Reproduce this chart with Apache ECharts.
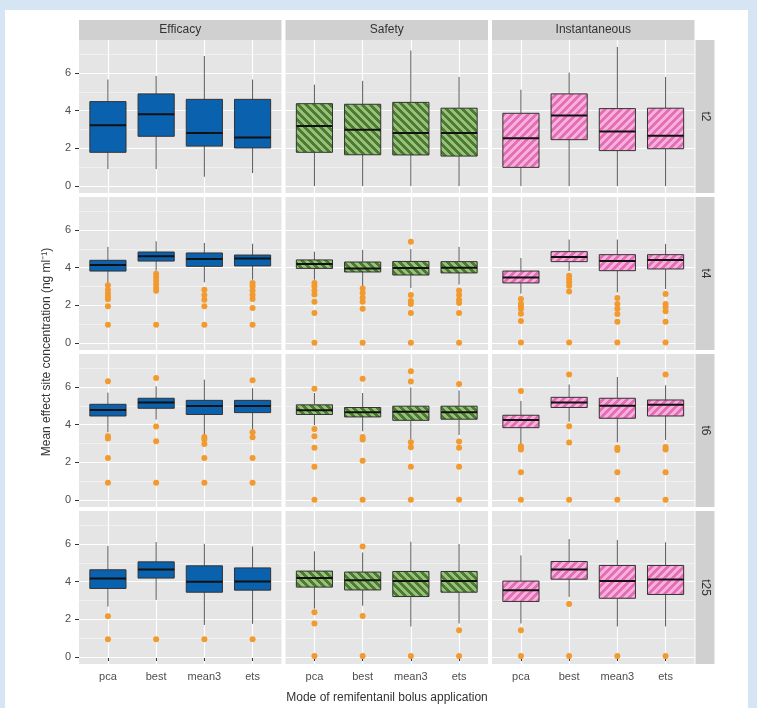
<!DOCTYPE html>
<html>
<head>
<meta charset="utf-8">
<script src="https://cdn.jsdelivr.net/npm/echarts@6/dist/echarts.min.js"></script>
<style>
html,body{margin:0;padding:0;background:#d6e5f4;}
#card{position:absolute;left:5px;top:10px;width:743px;height:698px;background:#fff;}
#chart{position:absolute;left:0;top:0;width:757px;height:708px;}
</style>
</head>
<body>
<div id="card"></div>
<div id="chart"></div>
<script>
// ---------- data ----------
const categories = ['pca', 'best', 'mean3', 'ets'];
const modes = ['Efficacy', 'Safety', 'Instantaneous'];
const times = ['t2', 't4', 't6', 't25'];
const yTickValues = [0, 2, 4, 6];
const yMinorValues = [1, 3, 5, 7];
const xAxisTitle = 'Mode of remifentanil bolus application';
const yAxisTitle = 'Mean effect site concentration (ng ml\u207B\u00B9)';

// box stats per category: [lower whisker, Q1, median, Q3, upper whisker]
const effT2 = [[0.90,1.79,3.22,4.48,5.65],[0.90,2.64,3.81,4.89,5.84],[0.49,2.12,2.81,4.60,6.90],[0.69,2.02,2.57,4.60,5.65]];
const safT2 = [[0.00,1.79,3.19,4.37,5.38],[0.00,1.66,2.99,4.34,5.58],[0.00,1.65,2.81,4.44,7.19],[0.00,1.59,2.81,4.13,5.79]];
const insT2 = [[0.00,0.99,2.53,3.86,5.11],[0.00,2.46,3.74,4.89,6.02],[0.00,1.88,2.90,4.11,7.38],[0.00,1.98,2.67,4.13,5.79]];

const effT4 = [[3.19,3.82,4.14,4.39,5.10],[3.84,4.35,4.60,4.83,5.40],[3.22,4.07,4.46,4.78,5.31],[3.36,4.09,4.49,4.67,5.27]];
const safT4 = [[3.36,3.96,4.20,4.41,4.85],[3.01,3.77,3.96,4.30,4.94],[2.92,3.61,3.98,4.33,4.99],[3.10,3.72,4.00,4.32,5.10]];
const insT4 = [[2.62,3.19,3.48,3.82,4.51],[3.82,4.32,4.57,4.85,5.49],[2.69,3.84,4.35,4.69,5.49],[2.87,3.93,4.41,4.69,5.26]];

const effT6 = [[3.60,4.46,4.78,5.08,5.70],[4.27,4.87,5.17,5.40,6.04],[3.45,4.54,4.99,5.29,6.39],[3.74,4.64,4.99,5.29,5.93]];
const safT6 = [[3.97,4.54,4.76,5.05,5.68],[3.65,4.41,4.66,4.91,5.68],[3.21,4.23,4.69,4.98,5.97],[3.45,4.29,4.66,4.98,5.81]];
const insT6 = [[2.92,3.84,4.25,4.50,5.26],[4.16,4.91,5.17,5.45,6.13],[3.06,4.34,5.01,5.40,6.53],[3.19,4.46,5.05,5.31,6.09]];

const effT25 = [[2.68,3.64,4.17,4.63,5.89],[3.03,4.19,4.65,5.05,6.10],[1.70,3.44,3.99,4.84,6.01],[1.76,3.55,4.01,4.73,5.87]];
const safT25 = [[2.57,3.71,4.19,4.56,5.61],[2.72,3.56,4.08,4.51,5.55],[1.62,3.21,4.03,4.54,6.12],[1.78,3.44,4.04,4.54,6.00]];
const insT25 = [[1.78,2.95,3.55,4.03,5.39],[3.19,4.13,4.65,5.07,6.26],[1.62,3.12,4.03,4.86,6.21],[1.62,3.32,4.12,4.86,6.09]];

// outliers per category
const effT2Out = [[],[],[],[]];
const safT2Out = [[],[],[],[]];
const insT2Out = [[],[],[],[]];

const effT4Out = [[3.06,2.83,2.63,2.45,2.32,1.95,0.97],[3.68,3.50,3.32,3.13,2.94,2.78,0.97],[2.83,2.55,2.30,1.95,0.97],[3.19,3.01,2.79,2.55,2.34,1.86,0.97]];
const safT4Out = [[3.19,3.01,2.79,2.57,2.19,1.59,0.02],[2.90,2.65,2.40,2.19,1.82,0.02],[5.38,2.55,2.23,2.07,1.59,0.02],[2.79,2.55,2.30,2.12,1.59,0.02]];
const insT4Out = [[2.34,2.09,1.95,1.80,1.56,1.17,0.03],[3.57,3.40,3.22,3.04,2.74,0.03],[2.39,2.07,1.82,1.54,1.13,0.03],[2.60,2.07,1.91,1.68,1.13,0.03]];

const effT6Out = [[6.30,3.38,3.26,2.23,0.92],[6.48,3.90,3.12,0.92],[3.35,3.22,2.97,2.23,0.92],[6.36,3.60,3.33,2.23,0.92]];
const safT6Out = [[5.90,3.77,3.38,2.78,1.77,0.02],[6.43,3.35,3.21,2.09,0.02],[6.83,6.29,3.06,2.80,1.77,0.02],[6.16,3.10,2.78,1.77,0.02]];
const insT6Out = [[5.79,2.85,2.77,2.68,1.47,0.02],[6.66,3.91,3.05,0.02],[2.78,2.66,1.47,0.02],[6.66,2.81,2.68,1.47,0.02]];

const effT25Out = [[2.17,0.94],[0.94],[0.94],[0.94]];
const safT25Out = [[2.38,1.78,0.05],[5.87,2.18,0.05],[0.05],[1.42,0.05]];
const insT25Out = [[1.42,0.05],[2.82,0.05],[0.05],[0.05]];

// ---------- build ----------
const boxTable = [[effT2, safT2, insT2],[effT4, safT4, insT4],[effT6, safT6, insT6],[effT25, safT25, insT25]];
const outTable = [[effT2Out, safT2Out, insT2Out],[effT4Out, safT4Out, insT4Out],[effT6Out, safT6Out, insT6Out],[effT25Out, safT25Out, insT25Out]];

function hexToRgb(h){h=h.replace('#','');return [parseInt(h.substr(0,2),16),parseInt(h.substr(2,2),16),parseInt(h.substr(4,2),16)];}
function makePattern(dark, light, dir){
  const s = 8, c = document.createElement('canvas');
  c.width = s; c.height = s;
  const ctx = c.getContext('2d');
  const img = ctx.createImageData(s, s);
  const d = hexToRgb(dark), l = hexToRgb(light);
  for (let y = 0; y < s; y++) for (let x = 0; x < s; x++) {
    const t = (((dir > 0 ? x + y : x - y) % s) + s) % s;
    const col = t < 4 ? d : l;
    const i = (y * s + x) * 4;
    img.data[i] = col[0]; img.data[i+1] = col[1]; img.data[i+2] = col[2]; img.data[i+3] = 255;
  }
  ctx.putImageData(img, 0, 0);
  return {image: c, repeat: 'repeat'};
}
const fills = [
  '#0a62ae',
  makePattern('#4d7b37', '#97c275', -1),
  makePattern('#e46fb6', '#f6b0da', 1)
];

const colLeft = [79, 285.5, 492];
const colW = 202.5;
const rowTop = [40, 197, 354, 511];
const rowH = 153;
const yMin = -0.37, yMax = 7.75;
const font = 'Liberation Sans, Arial, Helvetica, sans-serif';

const grids = [], xAxes = [], yAxes = [], series = [], graphics = [];
let gi = 0;
for (let r = 0; r < 4; r++) {
  for (let c = 0; c < 3; c++) {
    grids.push({left: colLeft[c], top: rowTop[r], width: colW, height: rowH, show: true,
      backgroundColor: '#e5e5e5', borderWidth: 0, outerBoundsMode: 'none', containLabel: false});
    const bottom = r === 3, left = c === 0;
    xAxes.push({type: 'value', gridIndex: gi, min: 0.4, max: 4.6,
      axisLine: {show: false},
      axisTick: {show: bottom, length: 4, lineStyle: {color: '#333', width: 1}, customValues: [1,2,3,4]},
      axisLabel: {show: bottom, customValues: [1,2,3,4], margin: 7, color: '#4d4d4d', fontSize: 11, fontFamily: font,
        formatter: v => categories[Math.round(v) - 1] || ''},
      splitLine: {show: true, lineStyle: {color: '#ffffff', width: 1.2}}
    });
    yAxes.push({type: 'value', gridIndex: gi, min: yMin, max: yMax, position: 'left',
      axisLine: {show: false},
      axisTick: {show: left, length: 4, lineStyle: {color: '#333', width: 1}, customValues: yTickValues},
      axisLabel: {show: left, customValues: yTickValues, margin: 8, color: '#4d4d4d', fontSize: 11, fontFamily: font},
      splitLine: {show: true, lineStyle: {color: '#ffffff', width: 1.2}}, z: 1
    });
    yAxes.push({type: 'value', gridIndex: gi, min: yMin, max: yMax, position: 'right',
      axisLine: {show: false}, axisLabel: {show: false},
      axisTick: {show: false, customValues: yMinorValues},
      splitLine: {show: true, lineStyle: {color: '#f2f2f2', width: 0.8}}, z: 0
    });
    const boxData = boxTable[r][c].map((b, i) => [i + 1].concat(b));
    const fill = fills[c];
    series.push({
      type: 'custom', xAxisIndex: gi, yAxisIndex: 2 * gi, z: 3,
      data: boxData,
      encode: {x: 0, y: [1, 2, 3, 4, 5]},
      renderItem: function (params, api) {
        const x = api.value(0);
        const pMin = api.coord([x, api.value(1)]);
        const pQ1 = api.coord([x, api.value(2)]);
        const pMed = api.coord([x, api.value(3)]);
        const pQ3 = api.coord([x, api.value(4)]);
        const pMax = api.coord([x, api.value(5)]);
        const w = api.size([0.75, 0])[0];
        const cx = pMed[0];
        return {type: 'group', children: [
          {type: 'line', shape: {x1: cx, y1: pMax[1], x2: cx, y2: pQ3[1]}, style: {stroke: '#595959', lineWidth: 1}},
          {type: 'line', shape: {x1: cx, y1: pQ1[1], x2: cx, y2: pMin[1]}, style: {stroke: '#595959', lineWidth: 1}},
          {type: 'rect', shape: {x: cx - w / 2, y: pQ3[1], width: w, height: pQ1[1] - pQ3[1]},
            style: {fill: fill, stroke: '#333333', lineWidth: 1}},
          {type: 'line', shape: {x1: cx - w / 2, y1: pMed[1], x2: cx + w / 2, y2: pMed[1]},
            style: {stroke: '#111111', lineWidth: 2}}
        ]};
      }
    });
    const outPts = [];
    outTable[r][c].forEach((arr, i) => arr.forEach(v => outPts.push([i + 1, v])));
    series.push({
      type: 'scatter', xAxisIndex: gi, yAxisIndex: 2 * gi, z: 4,
      data: outPts, symbol: 'circle', symbolSize: 6,
      itemStyle: {color: '#f29a2e', opacity: 1}, silent: true
    });
    gi++;
  }
}

// strips
for (let c = 0; c < 3; c++) {
  graphics.push({type: 'rect', shape: {x: colLeft[c], y: 20, width: colW, height: 20}, style: {fill: '#d0d0d0'}, silent: true});
  graphics.push({type: 'text', x: colLeft[c] + colW / 2, y: 30,
    style: {text: modes[c], fill: '#333', font: '12px ' + font, textAlign: 'center', textVerticalAlign: 'middle'}});
}
for (let r = 0; r < 4; r++) {
  graphics.push({type: 'rect', shape: {x: 695.5, y: rowTop[r], width: 19, height: rowH}, style: {fill: '#d0d0d0'}, silent: true});
  graphics.push({type: 'text', x: 705, y: rowTop[r] + rowH / 2, rotation: -Math.PI / 2,
    style: {text: times[r], fill: '#333', font: '12px ' + font, textAlign: 'center', textVerticalAlign: 'middle'}});
}
graphics.push({type: 'text', x: 387, y: 698,
  style: {text: xAxisTitle, fill: '#333', font: '12px ' + font, textAlign: 'center', textVerticalAlign: 'middle'}});
graphics.push({type: 'text', x: 47, y: 352, rotation: Math.PI / 2,
  style: {text: yAxisTitle, fill: '#333', font: '12px ' + font, textAlign: 'center', textVerticalAlign: 'middle'}});

const chart = echarts.init(document.getElementById('chart'), null, {renderer: 'canvas'});
chart.setOption({
  animation: false,
  backgroundColor: 'transparent',
  grid: grids, xAxis: xAxes, yAxis: yAxes, series: series, graphic: graphics
});
</script>
</body>
</html>
